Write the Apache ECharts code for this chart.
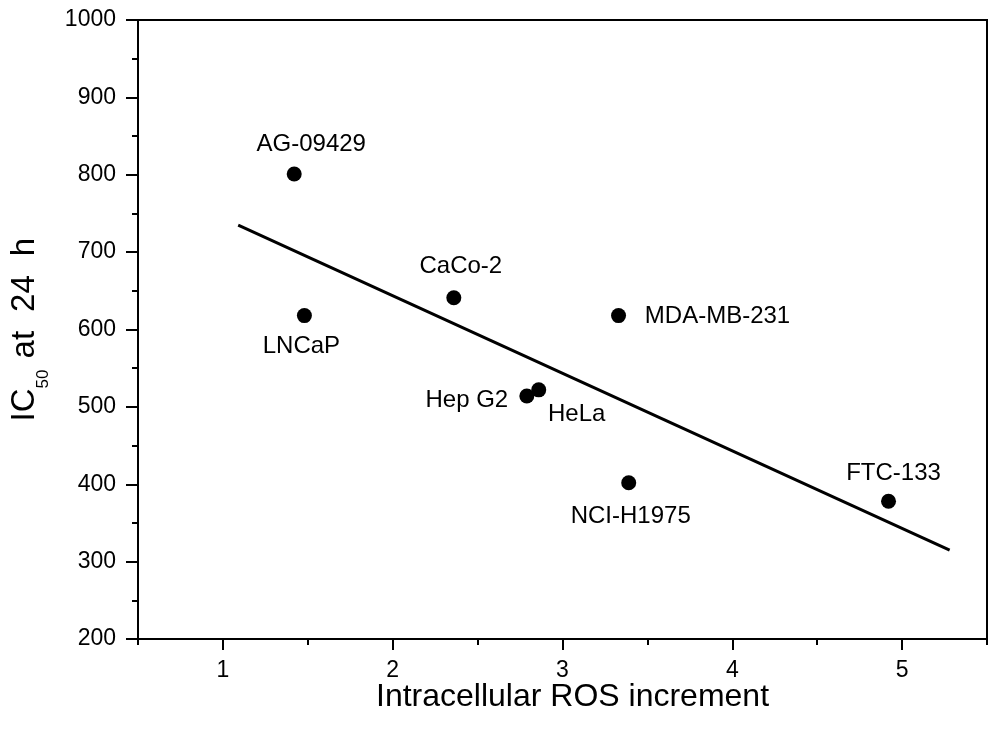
<!DOCTYPE html>
<html>
<head>
<meta charset="utf-8">
<script src="https://cdn.jsdelivr.net/npm/echarts@6/dist/echarts.min.js"></script>
<style>
html,body{margin:0;padding:0;background:#fff;}
#chart{width:993px;height:735px;}
</style>
</head>
<body>
<div id="chart"></div>
<script>
// ---- data ----
const cellLines = ['AG-09429', 'LNCaP', 'CaCo-2', 'MDA-MB-231', 'Hep G2', 'HeLa', 'NCI-H1975', 'FTC-133'];
const rosIncrement = [1.42, 1.48, 2.36, 3.33, 2.79, 2.86, 3.39, 4.92];
const ic50 = [801, 618, 641, 618, 514, 522, 402, 378];
const fitX = [1.09, 5.28];
const fitY = [735, 315];
const xMajorTicks = [1, 2, 3, 4, 5];
const xMinorTicks = [0.5, 1.5, 2.5, 3.5, 4.5, 5.5];

// ---- label placement (style) ----
const labelOffset = {
  'AG-09429': [17, -30],
  'LNCaP': [-3, 31],
  'CaCo-2': [7, -31],
  'MDA-MB-231': [99, 1],
  'Hep G2': [-60, 4],
  'HeLa': [38, 25],
  'NCI-H1975': [2, 34],
  'FTC-133': [5, -28]
};

const FONT = '"Liberation Sans", Arial, Helvetica, sans-serif';

const scatterData = cellLines.map((n, i) => ({
  name: n,
  value: [rosIncrement[i], ic50[i]],
  label: { offset: labelOffset[n] }
}));
const fitData = fitX.map((x, i) => [x, fitY[i]]);

const chart = echarts.init(document.getElementById('chart'));
chart.setOption({
  animation: false,
  backgroundColor: '#fff',
  grid: {
    left: 138, right: 6, top: 20, bottom: 96,
    outerBoundsMode: 'none',
    containLabel: false,
    show: true, borderColor: '#000', borderWidth: 2, backgroundColor: 'transparent'
  },
  xAxis: [{
    type: 'value', min: 0.5, max: 5.5,
    position: 'bottom',
    name: 'Intracellular ROS increment',
    nameLocation: 'middle', nameGap: 42,
    nameMoveOverlap: false,
    nameTextStyle: { fontFamily: FONT, fontSize: 32, color: '#000', padding: [0, 0, 0, 20] },
    axisLine: { show: true, onZero: false, lineStyle: { color: '#000', width: 2 } },
    axisTick: { show: true, customValues: xMajorTicks, length: 11, lineStyle: { color: '#000', width: 2 } },
    axisLabel: { customValues: xMajorTicks, margin: 20, fontFamily: FONT, fontSize: 23, color: '#000' },
    splitLine: { show: false }
  }, {
    type: 'value', min: 0.5, max: 5.5,
    position: 'bottom', offset: 0,
    axisLine: { show: false },
    axisTick: { show: true, customValues: xMinorTicks, length: 6, lineStyle: { color: '#000', width: 2 } },
    axisLabel: { show: false },
    splitLine: { show: false }
  }],
  yAxis: {
    type: 'value', min: 200, max: 1000, interval: 100,
    name: '{a|IC}{s|50}{c|at}{b|24}{b|h}{z| }',
    nameLocation: 'middle', nameGap: 86,
    nameTextStyle: {
      color: '#000',
      rich: {
        a: { fontFamily: FONT, fontSize: 33, lineHeight: 33, verticalAlign: 'top', color: '#000' },
        c: { fontFamily: FONT, fontSize: 33, lineHeight: 33, verticalAlign: 'top', color: '#000', padding: [0, 0, 0, 11] },
        b: { fontFamily: FONT, fontSize: 33, lineHeight: 33, verticalAlign: 'top', color: '#000', padding: [0, 0, 0, 19] },
        s: { fontFamily: FONT, fontSize: 17, lineHeight: 17, verticalAlign: 'bottom', color: '#000' },
        z: { fontFamily: FONT, fontSize: 1, lineHeight: 44 }
      }
    },
    axisLine: { show: true, onZero: false, lineStyle: { color: '#000', width: 2 } },
    axisTick: { show: true, length: 12, lineStyle: { color: '#000', width: 2 } },
    minorTick: { show: true, splitNumber: 2, length: 6, lineStyle: { color: '#000', width: 2 } },
    axisLabel: { margin: 22, fontFamily: FONT, fontSize: 23, color: '#000', formatter: v => String(v) },
    splitLine: { show: false }
  },
  series: [{
    type: 'line',
    data: fitData,
    showSymbol: false,
    symbol: 'none',
    lineStyle: { color: '#000', width: 3 },
    z: 2
  }, {
    type: 'scatter',
    data: scatterData,
    symbol: 'circle',
    symbolSize: 15,
    itemStyle: { color: '#000', opacity: 1 },
    label: {
      show: true,
      position: 'inside',
      formatter: '{b}',
      align: 'center',
      verticalAlign: 'middle',
      fontFamily: FONT,
      fontSize: 24,
      color: '#000'
    },
    z: 3
  }]
});
</script>
</body>
</html>
